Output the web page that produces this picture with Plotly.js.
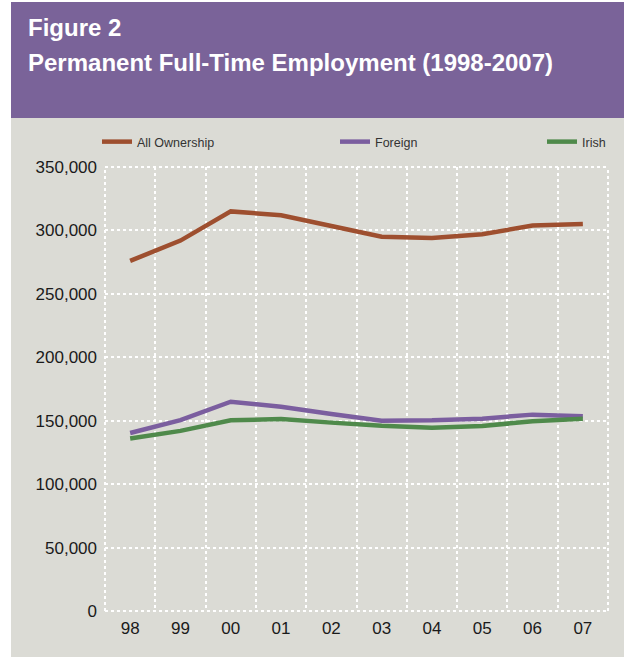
<!DOCTYPE html>
<html>
<head>
<meta charset="utf-8">
<script src="https://cdn.plot.ly/plotly-3.0.1.min.js"></script>
<style>
html,body{margin:0;padding:0;background:#ffffff;}
#chart{width:624px;height:657px;}
</style>
</head>
<body>
<div id="chart"></div>
<script>
const years = ["98","99","00","01","02","03","04","05","06","07"];
const allOwnership = [276000, 292000, 315000, 312000, 303500, 295000, 294000, 297000, 303800, 305000];
const foreign = [140300, 150500, 165000, 161000, 155300, 150000, 150300, 151600, 154800, 153500];
const irish = [136000, 142000, 150300, 151300, 148500, 146000, 144500, 145800, 149600, 151600];
const yTicks = [0, 50000, 100000, 150000, 200000, 250000, 300000, 350000];
const yTickText = ["0", "50,000", "100,000", "150,000", "200,000", "250,000", "300,000", "350,000"];

const W = 624, H = 657, L = 105, R = 16, T = 167, B = 46;
const pw = W - L - R, ph = H - T - B;
const px = x => (x - L) / pw;
const py = y => 1 - (y - T) / ph;

const gray = "#dbdbd5";
const purpleBand = "#7a6399";

const traces = [
  {x: years, y: allOwnership, name: "All Ownership", type: "scatter", mode: "lines",
   line: {color: "#9e4f2f", width: 4.5}, legend: "legend"},
  {x: years, y: foreign, name: "Foreign", type: "scatter", mode: "lines",
   line: {color: "#7b5e9f", width: 4.5}, legend: "legend2"},
  {x: years, y: irish, name: "Irish", type: "scatter", mode: "lines",
   line: {color: "#4f8a4b", width: 4.5}, legend: "legend3"}
];

const legFont = {family: "Liberation Sans, Arial, sans-serif", size: 12.5, color: "#333333"};
const legBase = {orientation: "h", yanchor: "middle", xanchor: "left", bgcolor: "rgba(0,0,0,0)",
                 font: legFont, borderwidth: 0};

const edge = {type: "line", xref: "paper", yref: "paper", layer: "above",
              line: {color: "#ffffff", width: 2, dash: "dot"}};

const layout = {
  width: W, height: H,
  margin: {l: L, r: R, t: T, b: B, pad: 0},
  paper_bgcolor: "#ffffff",
  plot_bgcolor: gray,
  showlegend: true,
  legend: Object.assign({}, legBase, {x: px(97), y: py(142)}),
  legend2: Object.assign({}, legBase, {x: px(335), y: py(142)}),
  legend3: Object.assign({}, legBase, {x: px(542), y: py(142)}),
  xaxis: {
    type: "category",
    tickson: "boundaries",
    range: [-0.5, 9.5],
    showgrid: true, gridcolor: "#ffffff", gridwidth: 2, griddash: "dot",
    showline: false, zeroline: false, ticks: "",
    ticklabelstandoff: 5,
    tickfont: {family: "Liberation Sans, Arial, sans-serif", size: 17, color: "#1a1a1a"},
    fixedrange: true
  },
  yaxis: {
    range: [0, 350000],
    tickvals: yTicks, ticktext: yTickText,
    showgrid: true, gridcolor: "#ffffff", gridwidth: 2, griddash: "dot",
    showline: false, zeroline: false, ticks: "",
    ticklabelstandoff: 7,
    tickfont: {family: "Liberation Sans, Arial, sans-serif", size: 17, color: "#1a1a1a"},
    fixedrange: true
  },
  shapes: [
    {type: "rect", xref: "paper", yref: "paper", layer: "below",
     x0: px(11), x1: 1.2, y0: -0.3, y1: py(118), fillcolor: gray, line: {width: 0}},
    {type: "rect", xref: "paper", yref: "paper", layer: "below",
     x0: px(11), x1: 1.2, y0: py(118), y1: py(2), fillcolor: purpleBand, line: {width: 0}},
    Object.assign({}, edge, {x0: 0, x1: 0, y0: 0, y1: 1}),
    Object.assign({}, edge, {x0: 1, x1: 1, y0: 0, y1: 1}),
    Object.assign({}, edge, {x0: 0, x1: 1, y0: 0, y1: 0}),
    Object.assign({}, edge, {x0: 0, x1: 1, y0: 1, y1: 1})
  ],
  annotations: [
    {text: "<b>Figure 2</b>", xref: "paper", yref: "paper", x: px(26), y: py(27),
     xanchor: "left", yanchor: "middle", showarrow: false,
     font: {family: "Liberation Sans, Arial, sans-serif", size: 24, color: "#ffffff"}},
    {text: "<b>Permanent Full-Time Employment (1998-2007)</b>", xref: "paper", yref: "paper",
     x: px(26), y: py(62), xanchor: "left", yanchor: "middle", showarrow: false,
     font: {family: "Liberation Sans, Arial, sans-serif", size: 24, color: "#ffffff"}}
  ]
};

Plotly.newPlot("chart", traces, layout, {displayModeBar: false, staticPlot: true});
</script>
</body>
</html>
